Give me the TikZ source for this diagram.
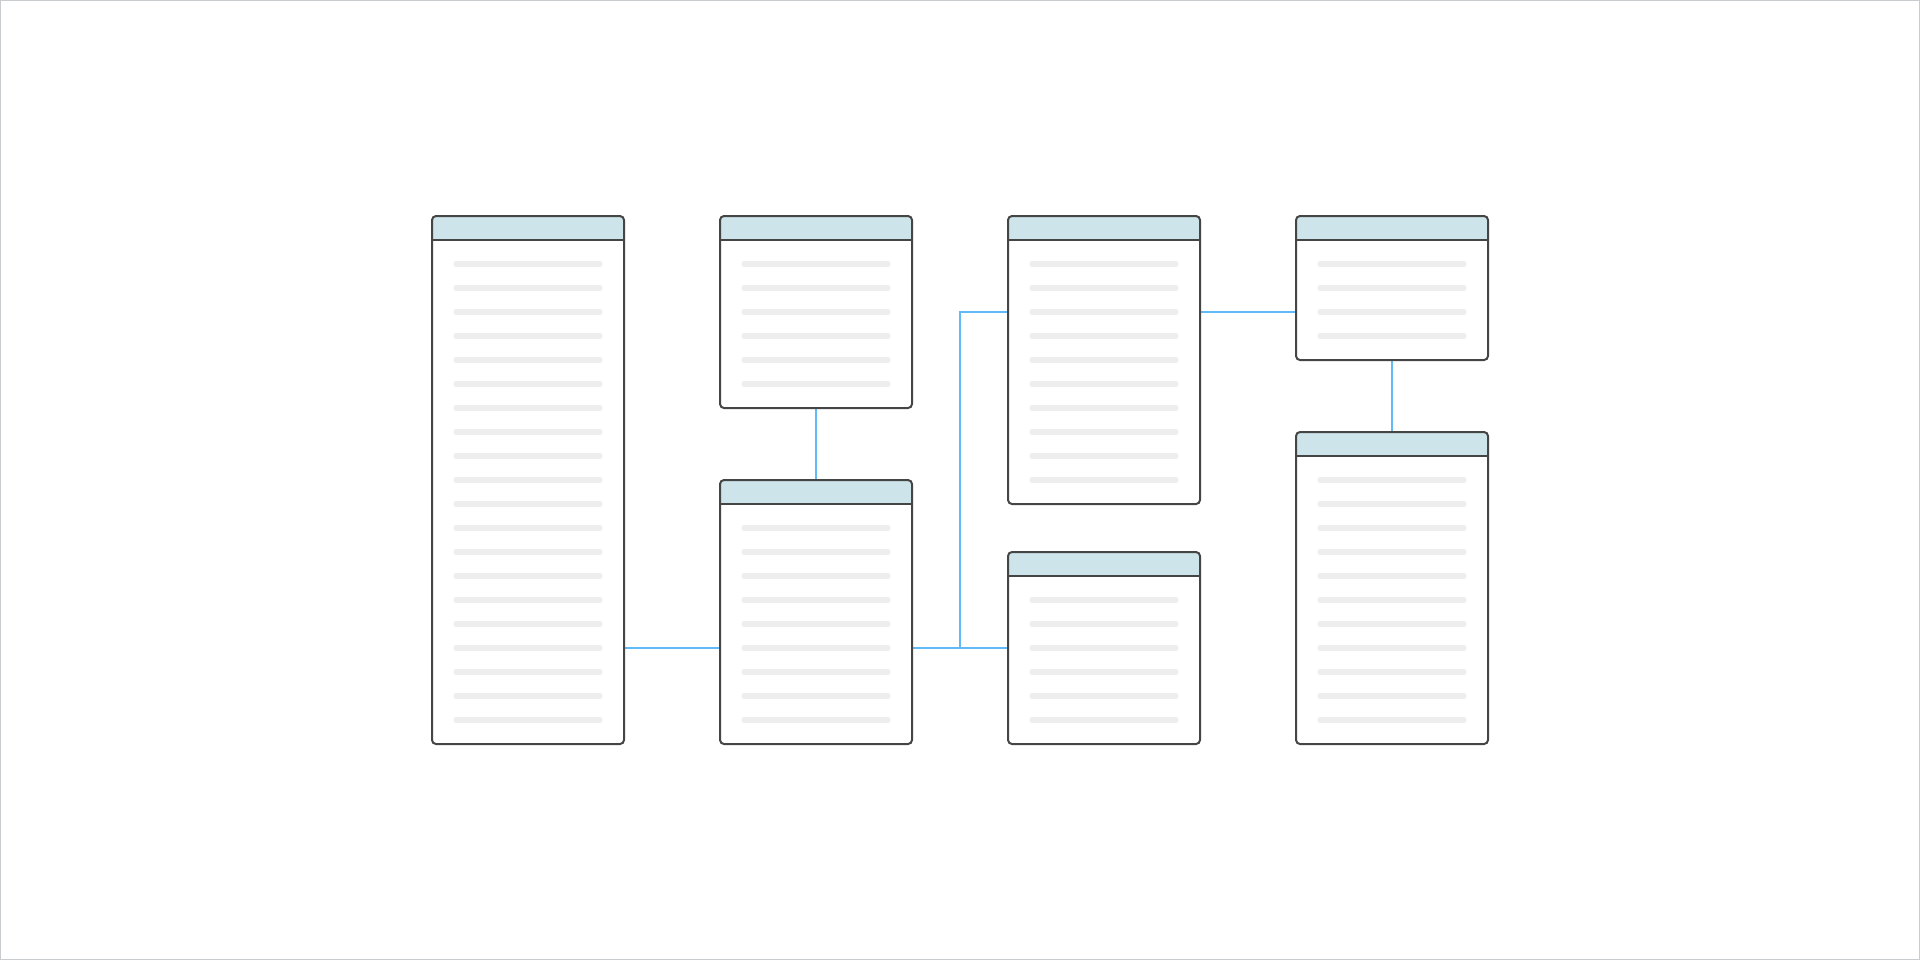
\documentclass[tikz,border=0pt]{standalone}
\usetikzlibrary{calc,backgrounds}
\definecolor{edgegrey}{HTML}{454545}
\definecolor{headblue}{HTML}{CDE4EA}
\definecolor{rowgrey}{HTML}{EEEEEE}
\definecolor{linkblue}{HTML}{62B9F8}
\definecolor{framegrey}{HTML}{C8CCCE}
\tikzset{
  tbl/.style={draw=edgegrey, line width=1pt, rounded corners=2pt, fill=white,
    minimum width=96pt, inner sep=0pt, outer sep=0pt, anchor=north west,
    path picture={\fill[headblue] (path picture bounding box.north west)
      rectangle ([yshift=-12pt]path picture bounding box.north east);}},
  headline/.style={draw=edgegrey, line width=1pt},
  rowbar/.style={draw=rowgrey, line width=2.75pt, line cap=round},
  conn/.style={draw=linkblue, line width=0.65pt},
  frame/.style={draw=framegrey, line width=0.5pt},
}
\newcommand{\erdtable}[4]{%
  \node[tbl, minimum height={12pt*(#4+2)}] (#1) at (#2,#3) {};
  \draw[headline] ([yshift=-12pt]#1.north west) -- ([yshift=-12pt]#1.north east);
  \foreach \i in {1,...,#4} {
    \draw[rowbar] ([xshift=12pt,yshift={-12pt*(\i+1)}]#1.north west)
      -- ([xshift=-12pt,yshift={-12pt*(\i+1)}]#1.north east);
  }
}
\begin{document}
\begin{tikzpicture}[x=0.5pt,y=-0.5pt]
  \useasboundingbox (0,0) rectangle (1920,960);
  \draw[frame] (0.5,0.5) rectangle (1919.5,959.5);
  % tables
  \erdtable{t1}{432}{216}{20}
  \erdtable{t2}{720}{216}{6}
  \erdtable{t3}{720}{480}{9}
  \erdtable{t4}{1008}{216}{10}
  \erdtable{t5}{1008}{552}{6}
  \erdtable{t6}{1296}{216}{4}
  \erdtable{t7}{1296}{432}{11}
  % junction points
  \coordinate (jn) at (960,648);
  \coordinate (ju) at (960,312);
  \begin{pgfonlayer}{background}
    \draw[conn] (t1.east |- jn) -- (t3.west |- jn);
    \draw[conn] (t2.south) -- (t3.north);
    \draw[conn] (t3.east |- jn) -- (t5.west |- jn);
    \draw[conn] (jn) -- (ju) -- (t4.west |- ju);
    \draw[conn] (t4.east |- ju) -- (t6.west |- ju);
    \draw[conn] (t6.south) -- (t7.north);
  \end{pgfonlayer}
\end{tikzpicture}
\end{document}
